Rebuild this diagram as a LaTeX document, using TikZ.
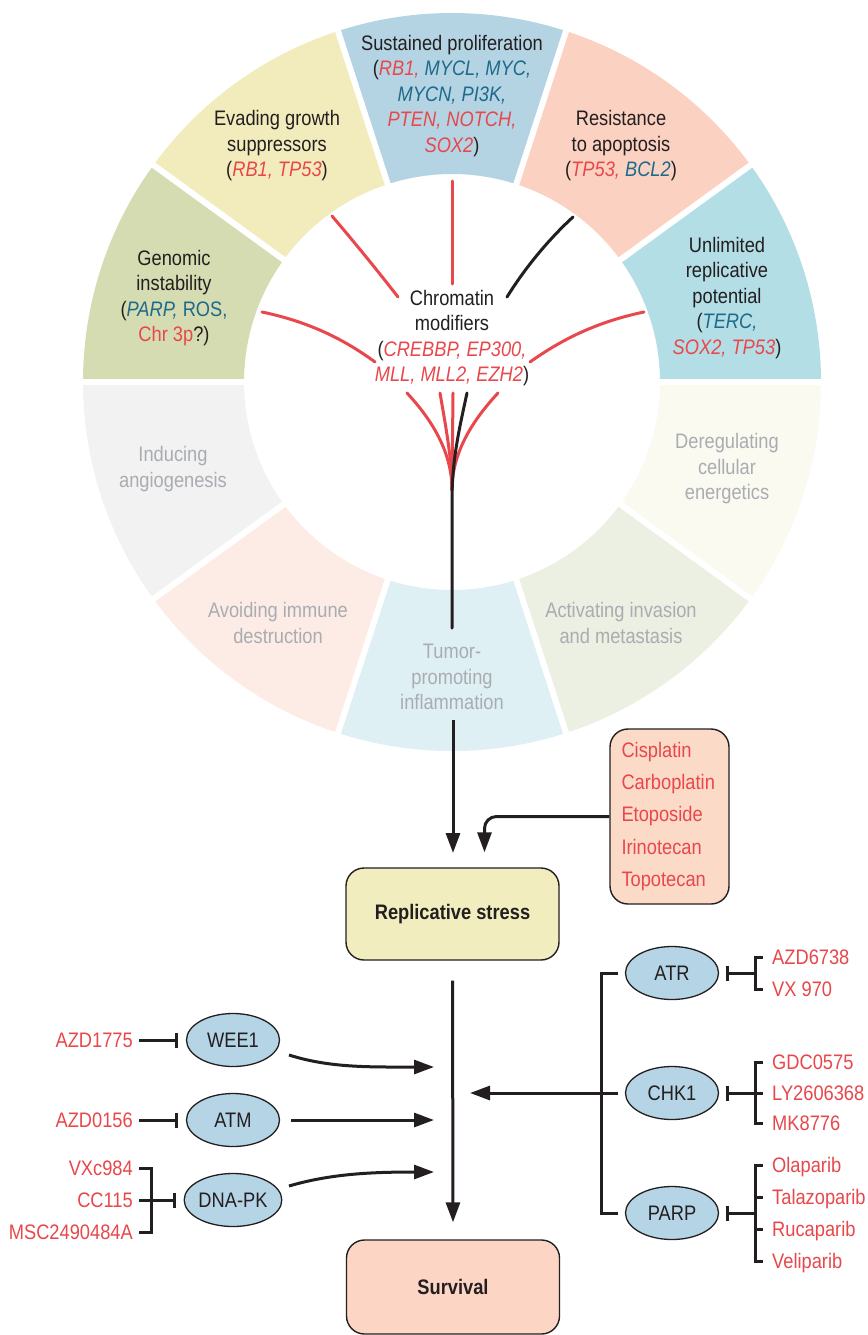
\documentclass[tikz,border=0pt]{standalone}
\usepackage{fontspec}
\setmainfont{Liberation Sans}[FakeStretch=0.87]
\usetikzlibrary{arrows.meta,shapes.geometric}
\definecolor{cred}{HTML}{E8474B}
\definecolor{cblue}{HTML}{1D6A8A}
\definecolor{cgray}{HTML}{A9ACB1}
\definecolor{ctext}{HTML}{231F20}
\definecolor{sSus}{HTML}{B4D4E4}
\definecolor{sRes}{HTML}{FBD1C1}
\definecolor{sUnl}{HTML}{B3DEE5}
\definecolor{sDer}{HTML}{FBFAF1}
\definecolor{sAct}{HTML}{EBF0E2}
\definecolor{sTum}{HTML}{DFF0F4}
\definecolor{sAvo}{HTML}{FDECE6}
\definecolor{sInd}{HTML}{F2F2F3}
\definecolor{sGen}{HTML}{D5DCB1}
\definecolor{sEva}{HTML}{F2ECBD}
\definecolor{cell}{HTML}{B5D5E6}
\definecolor{cyel}{HTML}{F2EDBE}
\definecolor{cpink}{HTML}{FCD5C5}
\definecolor{cpeach}{HTML}{FCDAC8}
\newcommand{\redg}[1]{\textcolor{cred}{\itshape #1}}
\newcommand{\blueg}[1]{\textcolor{cblue}{\itshape #1}}
\newcommand{\redu}[1]{\textcolor{cred}{#1}}
\newcommand{\blueu}[1]{\textcolor{cblue}{#1}}
\newcommand{\annseg}[3]{%
  \fill[#3] (#1:208pt) -- (#1:369pt) arc[start angle=#1, end angle=#2, radius=369pt]
    -- (#2:208pt) arc[start angle=#2, end angle=#1, radius=208pt] -- cycle;}
\tikzset{
  seg/.style={align=center, inner sep=0pt},
  faded/.style={seg, text=cgray},
  arr/.style={line width=3pt, draw=ctext, -{Triangle[length=20pt,width=14pt]}},
  inh/.style={line width=3pt, draw=ctext, -{Bar[width=15pt,line width=3pt]}},
  brk/.style={line width=3pt, draw=ctext},
  ell/.style={ellipse, draw=ctext, line width=1.3pt, fill=cell, minimum width=93pt, minimum height=53pt, inner sep=0pt},
  box/.style={rounded corners=18pt, draw=ctext, line width=1.4pt, minimum width=213pt, minimum height=92pt},
  drug/.style={text=cred, inner sep=0pt, text height=15pt, text depth=0pt},
  chrom/.style={line width=3pt, draw=cred, line cap=round},
  chromk/.style={line width=3pt, draw=ctext, line cap=round}
}
\begin{document}
\begin{tikzpicture}[x=1pt, y=-1pt, font=\fontsize{21}{25.5}\selectfont, text=ctext]
\useasboundingbox[fill=white] (0,0) rectangle (867,1335);

% ---- ring ----
\begin{scope}[shift={(452,382)}]
  \annseg{72}{108}{sSus}
  \annseg{36}{72}{sRes}
  \annseg{0}{36}{sUnl}
  \annseg{-36}{0}{sDer}
  \annseg{-72}{-36}{sAct}
  \annseg{-108}{-72}{sTum}
  \annseg{-144}{-108}{sAvo}
  \annseg{-180}{-144}{sInd}
  \annseg{144}{180}{sGen}
  \annseg{108}{144}{sEva}
  \foreach \a in {0,36,...,324} {\draw[white, line width=6pt] (\a:200pt) -- (\a:380pt);}
\end{scope}

% ---- ring texts ----
\node[seg] (sus) at (452,96) {Sustained proliferation\\(\redg{RB1,} \blueg{MYCL, MYC,}\\\blueg{MYCN, PI3K,}\\\redg{PTEN, NOTCH,}\\\redg{SOX2})};
\node[seg] (eva) at (277,146) {Evading growth\\suppressors\\(\redg{RB1, TP53})};
\node[seg] (res) at (621,146) {Resistance\\to apoptosis\\(\redg{TP53,} \blueg{BCL2})};
\node[seg] (gen) at (174,298) {Genomic\\instability\\(\blueg{PARP,} \blueu{ROS,}\\\redu{Chr 3p}?)};
\node[seg] (unl) at (727,298) {Unlimited\\replicative\\potential\\(\blueg{TERC,}\\\redg{SOX2, TP53})};
\node[faded] (ind) at (173,469) {Inducing\\angiogenesis};
\node[faded] (der) at (727,469) {Deregulating\\cellular\\energetics};
\node[faded] (avo) at (278,623) {Avoiding immune\\destruction};
\node[faded] (act) at (621,623) {Activating invasion\\and metastasis};
\node[faded] (tum) at (452,677) {Tumor-\\promoting\\inflammation};
\node[seg] (chr) at (452,338) {Chromatin\\modifiers\\(\redg{CREBBP, EP300,}\\\redg{MLL, MLL2, EZH2})};

% ---- chromatin spokes ----
\draw[chrom] (332,216) .. controls (355,243) and (377,270) .. (398,297);
\draw[chrom] (452,181) -- (452,284);
\draw[chromk] (573,217) .. controls (548,240) and (525,268) .. (507,297);
\draw[chrom] (262,312) .. controls (310,322) and (345,340) .. (375,362);
\draw[chrom] (644,312) .. controls (596,322) and (561,340) .. (530,362);
\draw[chrom] (407,393) .. controls (432,420) and (452,452) .. (452,490);
\draw[chrom] (440,393) .. controls (446,428) and (452,460) .. (452,490);
\draw[chrom] (453,393) -- (452,490);
\draw[chrom] (498,393) .. controls (473,420) and (452,452) .. (452,490);
\draw[chromk] (467,393) .. controls (459,430) and (452,460) .. (452,500) -- (452,628);

% ---- middle flow ----
\node[box, fill=cyel, font=\fontsize{21}{25.5}\selectfont\bfseries] (rs) at (452.5,914) {Replicative stress};
\node[box, fill=cpink, minimum height=94pt, font=\fontsize{21}{25.5}\selectfont\bfseries] (surv) at (453,1287) {Survival};
\node[draw=ctext, line width=1.4pt, rounded corners=18pt, fill=cpeach, minimum width=119pt, minimum height=175pt,
      text width=96pt, inner xsep=11.5pt, align=left, font=\fontsize{21}{32.3}\selectfont, text=cred] (chemo) at (669.5,816.5)
      {Cisplatin\\Carboplatin\\Etoposide\\Irinotecan\\Topotecan};

\coordinate (ringout) at (453,720);
\draw[arr] (ringout) -- (453,853);
\draw[arr, rounded corners=12pt] (chemo.west) -| ([xshift=32pt,yshift=15pt]rs.north);
\draw[arr] ([yshift=-20pt]rs.south) -- ([yshift=17pt]surv.north);

% ---- left side ----
\node[ell] (wee1) at (233,1040) {WEE1};
\node[ell] (atm) at (233,1120) {ATM};
\node[ell] (dnapk) at (233,1200) {DNA-PK};
\node[drug, anchor=east] (azd1775) at (133,1040) {AZD1775};
\node[drug, anchor=east] (azd0156) at (133,1120) {AZD0156};
\node[drug, anchor=east] (vxc) at (133,1168) {VXc984};
\node[drug, anchor=east] (cc115) at (133,1200) {CC115};
\node[drug, anchor=east] (msc) at (133,1232) {MSC2490484A};
\draw[inh, shorten >=8pt] ([xshift=6pt]azd1775.east) -- (wee1.west);
\draw[inh, shorten >=8pt] ([xshift=6pt]azd0156.east) -- (atm.west);
\draw[brk] ([xshift=6pt]vxc.east) -- ++(12,0) |- ([xshift=6pt]msc.east);
\draw[inh, shorten >=8pt] ([xshift=6pt]cc115.east) -- (dnapk.west);
\coordinate (m1) at (434,1067);
\coordinate (m2) at (434,1120);
\coordinate (m3) at (434,1172);
\draw[arr] ([shift={(56pt,-15pt)}]wee1.center) .. controls (330,1068) and (370,1067) .. (m1);
\draw[arr, shorten <=11pt] (atm.east) -- (m2);
\draw[arr] ([shift={(56pt,14pt)}]dnapk.center) .. controls (330,1174) and (370,1172) .. (m3);

% ---- right side ----
\node[ell] (atr) at (672,973) {ATR};
\node[ell] (chk1) at (672,1093) {CHK1};
\node[ell] (parp) at (672,1213) {PARP};
\draw[brk] ([xshift=-7pt]atr.west) -| ([xshift=-23pt]parp.west) -- ([xshift=-7pt]parp.west);
\coordinate (m4) at (470,1093);
\draw[arr, shorten <=7pt] (chk1.west) -- (m4);

\node[drug, anchor=west] (azd6738) at (772,957) {AZD6738};
\node[drug, anchor=west] (vx970) at (772,989) {VX 970};
\node[drug, anchor=west] (gdc) at (772,1062) {GDC0575};
\node[drug, anchor=west] (ly) at (772,1093) {LY2606368};
\node[drug, anchor=west] (mk) at (772,1123) {MK8776};
\node[drug, anchor=west] (ola) at (772,1165) {Olaparib};
\node[drug, anchor=west] (tala) at (772,1197) {Talazoparib};
\node[drug, anchor=west] (ruca) at (772,1229) {Rucaparib};
\node[drug, anchor=west] (veli) at (772,1261) {Veliparib};

\draw[brk] ([xshift=-9pt]azd6738.west) -- ++(-8,0) |- ([xshift=-9pt]vx970.west);
\draw[brk] ([xshift=-9pt]gdc.west) -- ++(-8,0) |- ([xshift=-9pt]mk.west);
\draw[brk] ([xshift=-9pt]ola.west) -- ++(-8,0) |- ([xshift=-9pt]veli.west);
\draw[brk] ([xshift=-9pt]tala.west) -- ++(-8,0);
\draw[brk] ([xshift=-9pt]ruca.west) -- ++(-8,0);
\coordinate (atrb) at (755,973);
\coordinate (parpb) at (755,1213);
\draw[inh, shorten >=7pt] (atrb) -- (atr.east);
\draw[inh, shorten >=7pt] ([xshift=-9pt]ly.west) -- (chk1.east);
\draw[inh, shorten >=7pt] (parpb) -- (parp.east);
\end{tikzpicture}
\end{document}
